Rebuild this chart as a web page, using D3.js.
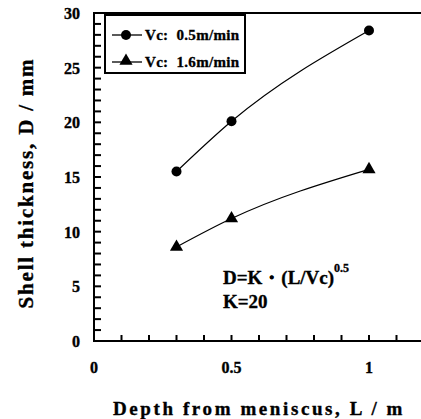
<!DOCTYPE html>
<html><head><meta charset="utf-8">
<script src="https://cdn.jsdelivr.net/npm/d3@7"></script>
<style>body{margin:0;background:#fff}svg{display:block}text{font-family:"Liberation Serif","Times New Roman",serif;font-weight:bold;fill:#000;stroke:#000;stroke-width:0.35}</style>
</head><body><svg id="c" width="421" height="419"></svg>
<script>
const depths = [0.3, 0.5, 1.0];
const thickVc05 = [15.5, 20.1, 28.4];
const thickVc16 = [8.6, 11.2, 15.7];
const seriesNames = ["Vc:  0.5m/min", "Vc:  1.6m/min"];
const xTickVals = [0, 0.5, 1];
const xTickLabels = ["0", "0.5", "1"];
const yTickVals = [0, 5, 10, 15, 20, 25, 30];
const yMinorVals = d3.range(1, 30);
const xMinorVals = [0.1, 0.2, 0.3, 0.4, 0.5, 0.6, 0.7, 0.8, 0.9, 1.0, 1.1];

const svg = d3.select("#c");
const x = d3.scaleLinear().domain([0, 1.2]).range([94, 424]);
const y = d3.scaleLinear().domain([0, 30]).range([341, 13]);

// frame lines
const frame = d3.path();
frame.moveTo(x(0), y(0) + 1); frame.lineTo(x(0), y(30) - 1);
svg.append("path").attr("d", frame.toString()).attr("fill","none").attr("stroke","#000").attr("stroke-width",2);
const hl = d3.path();
hl.moveTo(x(0) - 1, y(0)); hl.lineTo(421, y(0));
hl.moveTo(x(0) - 1, y(30)); hl.lineTo(421, y(30));
svg.append("path").attr("d", hl.toString()).attr("fill","none").attr("stroke","#000").attr("stroke-width",2.2);

// minor ticks (inward)
svg.selectAll(".ytk").data(yMinorVals).join("rect").attr("class","ytk")
  .attr("x", x(0)).attr("y", d => y(d) - 1).attr("width", 7).attr("height", 2).attr("fill", "#000");
svg.selectAll(".xtk").data(xMinorVals).join("rect").attr("class","xtk")
  .attr("x", d => x(d) - 1).attr("y", y(0) - 6).attr("width", 2).attr("height", 6).attr("fill", "#000");

// tick labels
svg.selectAll(".yl").data(yTickVals).join("text").attr("class","yl")
  .attr("x", 80).attr("y", d => y(d)+6).attr("text-anchor","end").attr("font-size",16).text(d => d);
svg.selectAll(".xl").data(xTickVals).join("text").attr("class","xl")
  .attr("x", d => x(d)).attr("y", 373).attr("text-anchor","middle").attr("font-size",16)
  .text((d,i) => xTickLabels[i]);

// titles
svg.append("text").attr("x", 259).attr("y", 415).attr("text-anchor","middle")
  .attr("font-size",19).attr("letter-spacing",2.6).text("Depth from meniscus, L / m");
svg.append("text").attr("transform","translate(33,183) rotate(-90)").attr("text-anchor","middle")
  .attr("font-size",21).attr("letter-spacing",1.8).text("Shell thickness, D / mm");

// lines
const line = d3.line().x((d,i) => x(depths[i])).y(d => y(d)).curve(d3.curveMonotoneX);
[thickVc05, thickVc16].forEach(s => {
  svg.append("path").attr("d", line(s)).attr("fill","none").attr("stroke","#000").attr("stroke-width",1.2);
});
const tri = d3.symbol().type(d3.symbolTriangle).size(75);
svg.selectAll(".c1").data(thickVc05).join("circle").attr("class","c1").attr("cx",(d,i)=>x(depths[i])).attr("cy",d=>y(d)).attr("r",5).attr("fill","#000");
svg.selectAll(".t1").data(thickVc16).join("path").attr("class","t1").attr("d",tri)
  .attr("transform",(d,i)=>`translate(${x(depths[i])},${y(d)})`).attr("fill","#000");

// legend
svg.append("rect").attr("x",105).attr("y",15).attr("width",140).attr("height",58).attr("fill","#fff").attr("stroke","#000").attr("stroke-width",2);
[35, 62].forEach((ly, i) => {
  const lp = d3.path(); lp.moveTo(112, ly); lp.lineTo(142, ly);
  svg.append("path").attr("d", lp.toString()).attr("stroke","#000").attr("stroke-width",1.3);
  if (i === 0) svg.append("circle").attr("cx",126).attr("cy",ly).attr("r",5).attr("fill","#000");
  else svg.append("path").attr("d",tri).attr("transform",`translate(126,${ly-1})`).attr("fill","#000");
  svg.append("text").attr("x",145).attr("y",ly+5).attr("font-size",15).attr("letter-spacing",0.3)
    .attr("xml:space","preserve").style("white-space","pre").text(seriesNames[i]);
});

// annotation
const ann = svg.append("text").attr("x",223).attr("y",284).attr("font-size",19);
ann.append("tspan").text("D=K\u30FB(L/Vc)");
ann.append("tspan").attr("dy",-12).attr("font-size",12).text("0.5");
svg.append("text").attr("x",223).attr("y",308).attr("font-size",19).text("K=20");
</script></body></html>
